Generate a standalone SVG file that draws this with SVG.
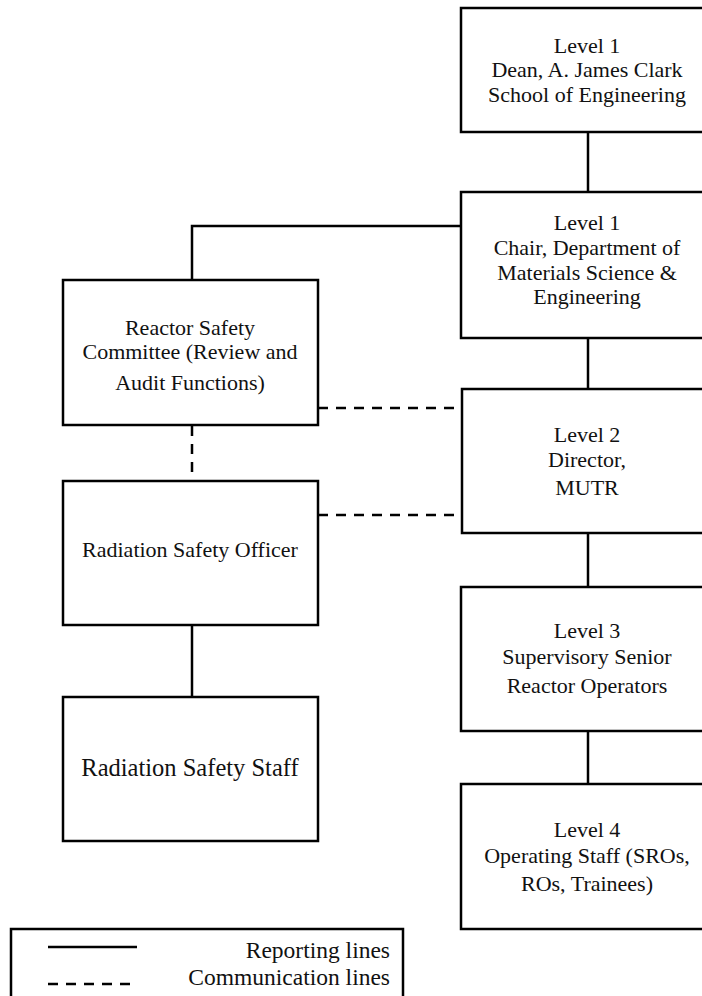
<svg xmlns="http://www.w3.org/2000/svg" width="702" height="996" viewBox="0 0 702 996">
<style>
.box{fill:#fff;stroke:#000;stroke-width:2.5}
.ln{fill:none;stroke:#000;stroke-width:2.5}
.dash{fill:none;stroke:#000;stroke-width:2.5;stroke-dasharray:10 8}
text{fill:#111;font-size:22px;text-anchor:middle}
.big{font-size:24.5px}
.lg{font-size:23.5px;text-anchor:end}
</style>
<rect width="702" height="996" fill="#fff"/>
<g id="connectors">
<line class="ln" x1="588" y1="132" x2="588" y2="192"/>
<polyline class="ln" points="462,226 192,226 192,280"/>
<line class="ln" x1="588" y1="338" x2="588" y2="389"/>
<line class="ln" x1="588" y1="533" x2="588" y2="587"/>
<line class="ln" x1="588" y1="731" x2="588" y2="784"/>
<line class="ln" x1="192" y1="625" x2="192" y2="697"/>
<line class="dash" x1="192" y1="426" x2="192" y2="481"/>
<line class="dash" x1="318" y1="408" x2="462" y2="408"/>
<line class="dash" x1="318" y1="515" x2="462" y2="515"/>
</g>
<g font-family="Liberation Serif, Times New Roman, serif">
<g id="dean">
<rect class="box" x="461" y="8" width="252" height="124"/>
<text x="587" y="53">Level 1</text>
<text x="587" y="77">Dean, A. James Clark</text>
<text x="587" y="102">School of Engineering</text>
</g>
<g id="chair">
<rect class="box" x="461" y="192" width="252" height="146"/>
<text x="587" y="230">Level 1</text>
<text x="587" y="255">Chair, Department of</text>
<text x="587" y="280">Materials Science &amp;</text>
<text x="587" y="304">Engineering</text>
</g>
<g id="rsc">
<rect class="box" x="63" y="280" width="255" height="145"/>
<text x="190" y="335">Reactor Safety</text>
<text x="190" y="359">Committee (Review and</text>
<text x="190" y="390">Audit Functions)</text>
</g>
<g id="director">
<rect class="box" x="462" y="389" width="251" height="144"/>
<text x="587" y="442">Level 2</text>
<text x="587" y="467">Director,</text>
<text x="587" y="495">MUTR</text>
</g>
<g id="rso">
<rect class="box" x="63" y="481" width="255" height="144"/>
<text x="190" y="557">Radiation Safety Officer</text>
</g>
<g id="rss">
<rect class="box" x="63" y="697" width="255" height="144"/>
<text class="big" x="190" y="776">Radiation Safety Staff</text>
</g>
<g id="level3">
<rect class="box" x="461" y="587" width="252" height="144"/>
<text x="587" y="638">Level 3</text>
<text x="587" y="664">Supervisory Senior</text>
<text x="587" y="693">Reactor Operators</text>
</g>
<g id="level4">
<rect class="box" x="461" y="784" width="252" height="145"/>
<text x="587" y="837">Level 4</text>
<text x="587" y="863">Operating Staff (SROs,</text>
<text x="587" y="891">ROs, Trainees)</text>
</g>
<g id="legend">
<rect class="box" x="11" y="929" width="392" height="80"/>
<line class="ln" x1="48" y1="947" x2="137" y2="947"/>
<line class="dash" x1="48" y1="984" x2="132" y2="984" stroke-dasharray="11 8"/>
<text class="lg" x="390" y="958">Reporting lines</text>
<text class="lg" x="390" y="985">Communication lines</text>
</g>
</g>
</svg>
